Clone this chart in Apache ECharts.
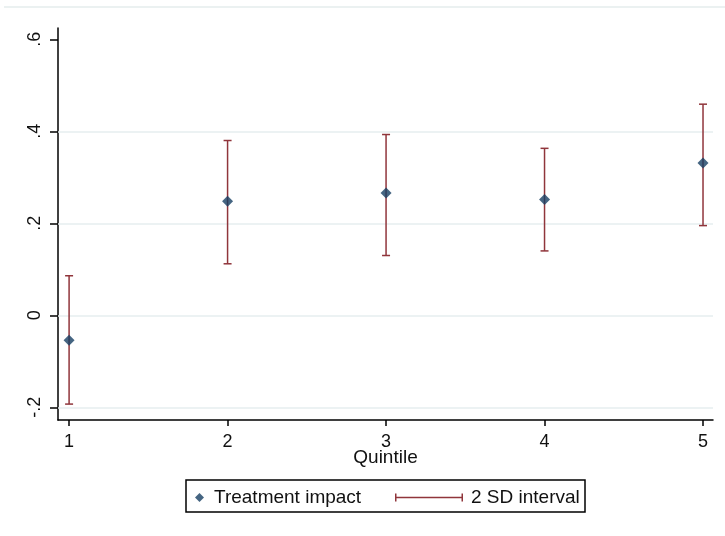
<!DOCTYPE html>
<html>
<head>
<meta charset="utf-8">
<script src="https://cdn.jsdelivr.net/npm/echarts@6/dist/echarts.min.js"></script>
<style>
  html, body { margin: 0; padding: 0; background: #fff; }
  #chart { width: 725px; height: 536px; }
</style>
</head>
<body>
<div id="chart"></div>
<script>
// values
var quintiles = [1, 2, 3, 4, 5];
var impact = [-0.054, 0.248, 0.266, 0.252, 0.331];
var lower  = [-0.193, 0.112, 0.130, 0.140, 0.195];
var upper  = [0.086, 0.380, 0.393, 0.363, 0.459];
var yTicks = [-0.2, 0, 0.2, 0.4, 0.6];
var yTickLabels = ['-.2', '0', '.2', '.4', '.6'];
var gridValues = [-0.2, 0, 0.2, 0.4];

var FONT = '"Liberation Sans", Arial, sans-serif';
var NAVY = '#163f63';
var MAROON = '#90353b';

var chart = echarts.init(document.getElementById('chart'));

var pointData = quintiles.map(function (q, i) { return [q, impact[i]]; });
var barData = quintiles.map(function (q, i) { return [q, lower[i], upper[i]]; });

chart.setOption({
    animation: false,
    backgroundColor: '#fff',
    grid: { left: 58, right: 12, top: 28, bottom: 116 },
    xAxis: {
        type: 'value',
        min: 0.93,
        max: 5.063,
        name: 'Quintile',
        nameLocation: 'middle',
        nameGap: 28,
        nameMoveOverlap: false,
        nameTextStyle: { fontFamily: FONT, fontSize: 19, color: '#111' },
        axisLine: { onZero: false, lineStyle: { color: '#000', width: 1.5 } },
        axisTick: { length: 6, lineStyle: { color: '#000', width: 1.5 }, customValues: quintiles },
        axisLabel: {
            customValues: quintiles, margin: 13,
            fontFamily: FONT, fontSize: 18, color: '#111'
        },
        splitLine: { show: false }
    },
    yAxis: {
        type: 'value',
        min: -0.2276,
        max: 0.6246,
        axisLine: { show: true, onZero: false, lineStyle: { color: '#000', width: 1.5 } },
        axisTick: { show: true, length: 8, lineStyle: { color: '#000', width: 1.5 }, customValues: yTicks },
        axisLabel: {
            customValues: yTicks, rotate: 90, margin: 14,
            fontFamily: FONT, fontSize: 18, color: '#111',
            formatter: function (v) {
                var i = yTicks.findIndex(function (t) { return Math.abs(t - v) < 1e-9; });
                return i >= 0 ? yTickLabels[i] : '';
            }
        },
        splitLine: { show: false }
    },
    legend: [
        {
            data: [{ name: 'Treatment impact', icon: 'diamond' }],
            left: 190, top: 483,
            itemWidth: 9, itemHeight: 9,
            textStyle: { fontFamily: FONT, fontSize: 19, color: '#111', padding: [0, 0, 0, 5] },
            selectedMode: false
        },
        {
            data: [{
                name: '2 SD interval',
                icon: 'path://M0,0h1.5v8h-1.5z M0,3.25h68v1.5h-68z M66.5,0h1.5v8h-1.5z'
            }],
            left: 390, top: 483,
            itemWidth: 68, itemHeight: 8,
            textStyle: { fontFamily: FONT, fontSize: 19, color: '#111', padding: [0, 0, 0, 3] },
            selectedMode: false
        }
    ],
    graphic: [
        {
            type: 'line', silent: true,
            shape: { x1: 4, y1: 7, x2: 725, y2: 7 },
            style: { stroke: '#e4ecec', lineWidth: 1.5 }
        },
        {
            type: 'rect', silent: true,
            shape: { x: 186, y: 480, width: 399, height: 32 },
            style: { fill: 'none', stroke: '#000', lineWidth: 1.5 }
        }
    ],
    series: [
        {
            name: '2 SD interval',
            type: 'custom',
            itemStyle: { color: MAROON },
            encode: { x: 0, y: [1, 2] },
            data: barData,
            z: 2,
            renderItem: function (params, api) {
                var x = api.value(0);
                var lo = api.coord([x, api.value(1)]);
                var hi = api.coord([x, api.value(2)]);
                var cap = 4;
                var style = { stroke: MAROON, lineWidth: 1.5 };
                return {
                    type: 'group',
                    children: [
                        { type: 'line', shape: { x1: lo[0], y1: lo[1], x2: hi[0], y2: hi[1] }, style: style },
                        { type: 'line', shape: { x1: lo[0] - cap, y1: lo[1], x2: lo[0] + cap, y2: lo[1] }, style: style },
                        { type: 'line', shape: { x1: hi[0] - cap, y1: hi[1], x2: hi[0] + cap, y2: hi[1] }, style: style }
                    ]
                };
            }
        },
        {
            name: 'Treatment impact',
            type: 'scatter',
            symbol: 'diamond',
            symbolSize: 11,
            itemStyle: { color: NAVY },
            data: pointData,
            z: 3,
            markLine: {
                silent: true,
                symbol: 'none',
                label: { show: false },
                lineStyle: { color: '#e6eeef', width: 1.5, type: 'solid' },
                data: gridValues.map(function (v) { return { yAxis: v }; }),
                z: 1
            }
        }
    ]
});
</script>
</body>
</html>
